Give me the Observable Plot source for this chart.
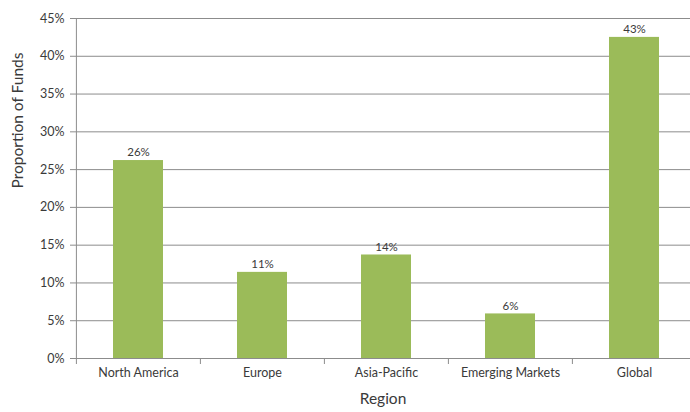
<!DOCTYPE html>
<html>
<head>
<meta charset="utf-8">
<script src="https://cdn.jsdelivr.net/npm/d3@7"></script>
<script src="https://cdn.jsdelivr.net/npm/@observablehq/plot@0.6"></script>
<style>
  html, body { margin: 0; padding: 0; background: #fff; }
  svg { display: block; }
</style>
</head>
<body>
<div id="chart"></div>
<script>
const regions = ["North America", "Europe", "Asia-Pacific", "Emerging Markets", "Global"];
const proportions = [0.262, 0.114, 0.137, 0.059, 0.425];
const labels = ["26%", "11%", "14%", "6%", "43%"];
const yTicks = [0, 0.05, 0.10, 0.15, 0.20, 0.25, 0.30, 0.35, 0.40, 0.45];

const data = regions.map((r, i) => ({region: r, value: proportions[i], label: labels[i]}));

const W = 690, H = 412;
const xRange = [75, 696];
const half = (xRange[1] - xRange[0]) / regions.length / 2;
const axisColor = "#8c8c8c";
const textColor = "#3a3a3a";
const font = "Lato, 'Open Sans', sans-serif";

const chart = Plot.plot({
  width: W,
  height: H,
  marginTop: 18,
  marginBottom: 54,
  marginLeft: 75,
  marginRight: 0,
  style: {fontFamily: font, fontSize: "12px", color: textColor, background: "#fff", overflow: "visible"},
  x: {domain: regions, range: xRange, paddingInner: 0.6, paddingOuter: 0.3, label: null},
  y: {domain: [0, 0.45], label: null},
  marks: [
    Plot.ruleY(yTicks, {stroke: axisColor, strokeWidth: 1}),
    Plot.ruleX([0], {x: () => regions[0], dx: -half, y1: 0, y2: 0.45, stroke: axisColor}),
    Plot.ruleX(regions, {x: d => d, dx: -half, y1: 0, y2: 0, insetBottom: -6, stroke: axisColor}),
    Plot.ruleX([regions[regions.length - 1]], {x: d => d, dx: half, y1: 0, y2: 0, insetBottom: -6, stroke: axisColor}),
    Plot.barY(data, {x: "region", y: "value", fill: "#9bbb59"}),
    Plot.text(data, {x: "region", y: "value", text: "label", dy: -8, fill: textColor, fontSize: 11.5}),
    Plot.axisY(yTicks, {tickFormat: d => Math.round(d * 100) + "%", tickSize: 5, tickPadding: 6, stroke: axisColor, fill: textColor, fontSize: 12.5}),
    Plot.axisX({tickSize: 0, tickPadding: 10, fill: textColor, fontSize: 12.5, label: null}),
    Plot.text(["Proportion of Funds"], {frameAnchor: "left", dx: -57, rotate: -90, fontSize: 15.5, fill: textColor}),
    Plot.text(["Region"], {frameAnchor: "bottom", dy: 45, fontSize: 15.5, fill: textColor})
  ]
});
document.getElementById("chart").appendChild(chart);
</script>
</body>
</html>
